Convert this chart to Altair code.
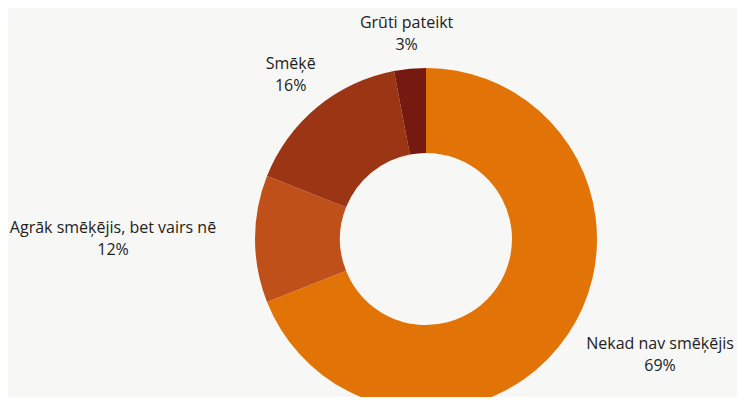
import altair as alt
import pandas as pd
import numpy as np

categories = ["Nekad nav smēķējis", "Agrāk smēķējis, bet vairs nē", "Smēķē", "Grūti pateikt"]
values = [69, 12, 16, 3]
colors = ["#E27307", "#C0501A", "#9B3514", "#761A11"]

W, H = 729, 389
CX, CY = 418, 231
R_OUT, R_IN = 171, 86

df = pd.DataFrame({"cat": categories, "val": values, "order": list(range(len(values)))})
total = float(sum(values))
cum = np.cumsum([0] + values[:-1])
mid = (cum + np.array(values) / 2.0) / total * 2 * np.pi
hw = np.array([len(c) * 8.0 / 2 for c in categories])
hh = 22
s = np.abs(np.sin(mid))
c = np.abs(np.cos(mid))
r = R_OUT + 8 + 22 * s ** 4 + hw * s + hh * c
lx = CX + r * np.sin(mid)
ly = CY - r * np.cos(mid)
ymax = H - 42
clamped = ly > ymax
ly = np.where(clamped, ymax, ly)
lx = np.where(clamped, CX + np.sign(np.sin(mid)) * np.sqrt(np.maximum(r ** 2 - (ly - CY) ** 2, 0)), lx)
df["lx"] = lx
df["ly"] = ly
df["label"] = [f"{k}\n{v}%" for k, v in zip(categories, values)]

arcs = alt.Chart(df).mark_arc(outerRadius=R_OUT, innerRadius=R_IN).encode(
    theta=alt.Theta("val:Q", stack=True),
    color=alt.Color("cat:N", scale=alt.Scale(domain=categories, range=colors), legend=None),
    order=alt.Order("order:Q"),
    x=alt.value(CX),
    y=alt.value(CY),
)

labels = alt.Chart(df).mark_text(
    font="Open Sans", fontSize=16, color="#222222", lineBreak="\n", lineHeight=22,
    align="center", baseline="middle", dy=-11
).encode(
    x=alt.X("lx:Q", scale=None),
    y=alt.Y("ly:Q", scale=None),
    text="label:N",
)

chart = alt.layer(arcs, labels).properties(
    width=W, height=H, padding=0, autosize=alt.AutoSizeParams(type="none"),
    background="#F7F7F5"
).configure_view(stroke=None)

chart.save("out.html", embed_options={"renderer": "svg", "actions": False})
